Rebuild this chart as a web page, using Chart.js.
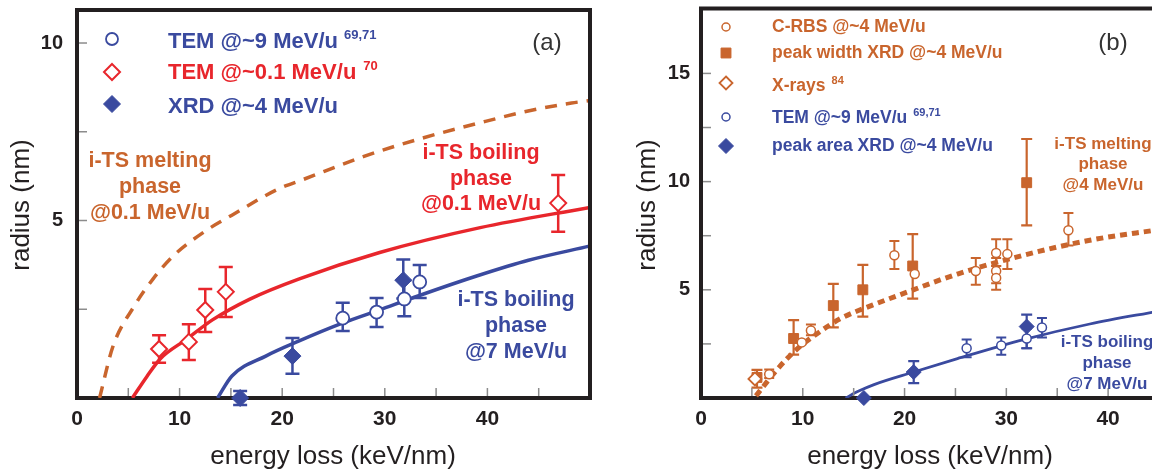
<!DOCTYPE html>
<html><head><meta charset="utf-8">
<script src="https://cdn.jsdelivr.net/npm/chart.js@4"></script>
<style>
html,body{margin:0;padding:0;background:#fff;width:1152px;height:470px;overflow:hidden;position:relative;}
#ca{position:absolute;left:0;top:0;width:620px;height:470px;}
#cb{position:absolute;left:620px;top:0;width:560px;height:470px;}
</style></head><body>
<canvas id="ca" width="620" height="470"></canvas>
<canvas id="cb" width="560" height="470"></canvas>
<script>
const FONT = '"Liberation Sans", Arial, Helvetica, sans-serif';
const ORANGE = '#c9652d', RED = '#e8262c', BLUE = '#3a4a9f', INK = '#231f20', TICK = '#8c8c8c';

// ---------- Panel (a) ----------
const aXLabels = [0, 10, 20, 30, 40];
const aYLabels = [5, 10];
// theory curves
const aMelt01X = [2.2, 3.5, 5.6, 7.4, 9.3, 12.6, 15.1, 19.7, 22.0, 27.9, 33.4, 39.1, 44.2, 48.2, 50];
const aMelt01Y = [0, 1.45, 2.6, 3.35, 3.98, 4.72, 5.15, 5.9, 6.15, 6.8, 7.3, 7.74, 8.1, 8.31, 8.38];
const aBoil01X = [5.4, 6.8, 8.1, 10.7, 13.2, 16.8, 21.6, 29.5, 39.3, 50];
const aBoil01Y = [0, 0.6, 1.1, 1.66, 2.2, 2.78, 3.35, 4.1, 4.8, 5.37];
const aBoil7X = [13.7, 15.1, 18.4, 21.6, 25.8, 29.4, 33.3, 39.1, 44, 50];
const aBoil7Y = [0, 0.62, 1.18, 1.6, 2.1, 2.47, 2.88, 3.45, 3.88, 4.28];
// TEM @~9 MeV/u
const aTem9X = [25.9, 29.2, 31.9, 33.4];
const aTem9Y = [2.25, 2.42, 2.79, 3.27];
const aTem9Lo = [1.89, 2.0, 2.3, 2.82];
const aTem9Hi = [2.68, 2.82, 3.3, 3.75];
// TEM @~0.1 MeV/u
const aTem01X = [8.0, 10.9, 12.5, 14.5, 46.9];
const aTem01Y = [1.38, 1.58, 2.48, 2.99, 5.49];
const aTem01Lo = [0.99, 1.07, 1.86, 2.28, 4.68];
const aTem01Hi = [1.77, 2.08, 3.07, 3.69, 6.28];
// XRD @~4 MeV/u
const aXrdX = [15.9, 21.0, 31.8];
const aXrdY = [0, 1.18, 3.32];
const aXrdLo = [-0.2, 0.68, 2.8];
const aXrdHi = [0.2, 1.69, 3.9];

// ---------- Panel (b) ----------
const bXLabels = [0, 10, 20, 30, 40];
const bYLabels = [5, 10, 15];
const bMelt4X = [5.4, 7.5, 9.4, 11.7, 13.7, 16.9, 19.6, 25.2, 31.7, 38.2, 45];
const bMelt4Y = [0.1, 1.33, 2.25, 3.07, 3.67, 4.3, 4.78, 5.73, 6.6, 7.29, 7.78];
const bBoil7X = [14.2, 15.5, 17.0, 20.9, 25.2, 31.7, 38.2, 45];
const bBoil7Y = [0, 0.32, 0.62, 1.2, 1.82, 2.7, 3.42, 4.02];
// C-RBS @~4 MeV/u
const bCrbsX = [6.7, 9.9, 10.8, 19.0, 21.0, 27.0, 29.0, 29.0, 29.0, 30.1, 36.1];
const bCrbsY = [1.1, 2.57, 3.12, 6.6, 5.73, 5.87, 6.7, 5.87, 5.55, 6.65, 7.75];
const bCrbsLo = [0.92, null, 2.9, 5.96, null, 5.23, 6.1, 5.3, 5.0, 5.96, 7.05];
const bCrbsHi = [1.32, null, 3.4, 7.25, null, 6.47, 7.34, 6.47, 6.1, 7.34, 8.55];
// peak width XRD @~4 MeV/u
const bPwX = [5.5, 9.1, 13.0, 15.9, 20.8, 32.0];
const bPwY = [0.95, 2.75, 4.27, 5.0, 6.1, 9.95];
const bPwLo = [0.48, 2.0, 3.26, 3.76, 4.59, 7.98];
const bPwHi = [1.3, 3.6, 5.27, 6.15, 7.57, 11.97];
// X-rays
const bXrX = [5.3];
const bXrY = [0.88];
// TEM @~9 MeV/u
const bTemX = [26.1, 29.5, 32.0, 33.5];
const bTemY = [2.3, 2.43, 2.75, 3.26];
const bTemLo = [1.88, 2.0, 2.3, 2.8];
const bTemHi = [2.7, 2.8, 3.2, 3.7];
// peak area XRD @~4 MeV/u
const bPaX = [16.0, 20.9, 32.0];
const bPaY = [0, 1.2, 3.3];
const bPaLo = [null, 0.69, 2.3];
const bPaHi = [null, 1.7, 3.85];

const pts = (xs, ys) => xs.map((x, i) => ({x: x, y: ys[i]}));

function curve(xs, ys, color, width, dash) {
  return {data: pts(xs, ys), showLine: true, pointRadius: 0, borderColor: color, borderWidth: width,
    borderDash: dash || [], borderCapStyle: 'butt', cubicInterpolationMode: 'monotone', fill: false, order: 10};
}
function scatter(xs, ys, lo, hi, style, r, color, filled, bw, errW, cap, order) {
  return {data: pts(xs, ys), showLine: false, pointStyle: style, pointRadius: r, pointHoverRadius: r,
    backgroundColor: filled ? color : '#fff', borderColor: color, borderWidth: bw, clip: false,
    errLo: lo, errHi: hi, errColor: color, errWidth: errW, errCap: cap, order: order};
}

const errorBars = {
  id: 'errorBars',
  beforeDatasetsDraw(chart) {
    const ctx = chart.ctx, xs = chart.scales.x, ys = chart.scales.y;
    chart.data.datasets.forEach(ds => {
      if (!ds.errLo) return;
      ctx.save();
      ctx.strokeStyle = ds.errColor; ctx.lineWidth = ds.errWidth; ctx.lineCap = 'butt';
      ds.data.forEach((p, j) => {
        const lo = ds.errLo[j], hi = ds.errHi[j];
        if (lo == null || hi == null) return;
        const px = xs.getPixelForValue(p.x), p1 = ys.getPixelForValue(lo), p2 = ys.getPixelForValue(hi);
        const c = ds.errCap;
        ctx.beginPath();
        ctx.moveTo(px, p1); ctx.lineTo(px, p2);
        ctx.moveTo(px - c, p1); ctx.lineTo(px + c, p1);
        ctx.moveTo(px - c, p2); ctx.lineTo(px + c, p2);
        ctx.stroke();
      });
      ctx.restore();
    });
  }
};

function marker(ctx, style, x, y, r, color, filled, lw) {
  ctx.save(); ctx.beginPath();
  if (style === 'circle') ctx.arc(x, y, r, 0, Math.PI * 2);
  else if (style === 'rectRot') { ctx.moveTo(x, y - r); ctx.lineTo(x + r, y); ctx.lineTo(x, y + r); ctx.lineTo(x - r, y); ctx.closePath(); }
  else { const s = r * Math.SQRT1_2; ctx.rect(x - s, y - s, 2 * s, 2 * s); }
  ctx.fillStyle = filled ? color : '#fff'; ctx.fill();
  ctx.lineWidth = lw; ctx.strokeStyle = color; ctx.stroke();
  ctx.restore();
}

const frame = {
  id: 'frame',
  afterDraw(chart, args, opts) {
    const ctx = chart.ctx, a = chart.chartArea, xs = chart.scales.x, ys = chart.scales.y;
    ctx.save();
    // inward ticks
    ctx.strokeStyle = TICK; ctx.lineWidth = 1.5;
    xs.ticks.forEach(t => {
      if (t.value <= xs.min || t.value >= xs.max || Math.abs(t.value / 5 - Math.round(t.value / 5)) > 1e-6) return;
      const px = xs.getPixelForValue(t.value);
      ctx.beginPath(); ctx.moveTo(px, a.bottom - 2); ctx.lineTo(px, a.bottom - 10); ctx.stroke();
    });
    ys.ticks.forEach(t => {
      if (t.value <= ys.min || t.value >= ys.max || Math.abs(t.value / 2.5 - Math.round(t.value / 2.5)) > 1e-6) return;
      const py = ys.getPixelForValue(t.value);
      ctx.beginPath(); ctx.moveTo(a.left + 2, py); ctx.lineTo(a.left + 10, py); ctx.stroke();
    });
    // top / right frame
    ctx.strokeStyle = INK; ctx.lineWidth = 4;
    ctx.beginPath(); ctx.moveTo(a.left - 2, a.top); ctx.lineTo(a.right + 2, a.top); ctx.stroke();
    if (opts.right) { ctx.beginPath(); ctx.moveTo(a.right, a.top); ctx.lineTo(a.right, a.bottom + 2); ctx.stroke(); }
    // axis titles
    ctx.fillStyle = INK; ctx.font = '26px ' + FONT; ctx.textAlign = 'center'; ctx.textBaseline = 'middle';
    ctx.fillText('energy loss (keV/nm)', opts.xTitle[0], opts.xTitle[1]);
    ctx.save(); ctx.translate(opts.yTitle[0], opts.yTitle[1]); ctx.rotate(-Math.PI / 2);
    ctx.fillText('radius (nm)', 0, 0); ctx.restore();
    // panel letter
    ctx.fillStyle = '#333'; ctx.font = '24px ' + FONT;
    ctx.fillText(opts.letter[0], opts.letter[1], opts.letter[2]);
    // annotations
    opts.notes.forEach(n => {
      ctx.fillStyle = n.color; ctx.font = 'bold ' + n.size + 'px ' + FONT; ctx.textAlign = 'center';
      n.lines.forEach((l, i) => ctx.fillText(l, n.x, n.ys[i]));
    });
    // legend
    opts.legend.forEach(L => {
      marker(ctx, L.style, L.mx, L.y, L.r, L.color, L.filled, L.lw);
      ctx.fillStyle = L.color; ctx.font = 'bold ' + L.size + 'px ' + FONT; ctx.textAlign = 'left'; ctx.textBaseline = 'middle';
      ctx.fillText(L.text, L.tx, L.ty);
      if (L.sup) {
        const w = ctx.measureText(L.text).width;
        ctx.font = 'bold ' + L.supSize + 'px ' + FONT;
        ctx.fillText(L.sup, L.tx + w + L.supGap, L.ty - L.supRise);
      }
    });
    ctx.restore();
  }
};

function scales(xMax, yMax, xLabels, yLabels, yW, xH, yPad, xPad) {
  return {
    x: {type: 'linear', min: 0, max: xMax,
      border: {display: true, color: INK, width: 4},
      grid: {display: false, drawTicks: false},
      ticks: {stepSize: 5, autoSkip: false, maxRotation: 0, minRotation: 0, padding: xPad, color: INK,
        font: {family: FONT, size: 21, weight: 'bold'},
        callback: v => xLabels.includes(v) ? String(v) : ''},
      afterFit: s => { s.height = xH; s.paddingLeft = 0; s.paddingRight = 0; s.paddingTop = 0; s.paddingBottom = 0; }
    },
    y: {type: 'linear', min: 0, max: yMax,
      border: {display: true, color: INK, width: 4},
      grid: {display: false, drawTicks: false},
      ticks: {stepSize: 2.5, autoSkip: false, padding: yPad, color: INK,
        font: {family: FONT, size: 20, weight: 'bold'},
        callback: v => yLabels.includes(v) ? String(v) : ''},
      afterFit: s => { s.width = yW; s.paddingTop = 0; s.paddingBottom = 0; s.paddingLeft = 0; s.paddingRight = 0; }
    }
  };
}

new Chart(document.getElementById('ca'), {
  type: 'scatter',
  data: {datasets: [
    curve(aMelt01X, aMelt01Y, ORANGE, 3.5, [12, 9]),
    curve(aBoil01X, aBoil01Y, RED, 3.5),
    curve(aBoil7X, aBoil7Y, BLUE, 3.5),
    scatter(aXrdX, aXrdY, aXrdLo, aXrdHi, 'rectRot', 8.5, BLUE, true, 1, 2.5, 7, 3),
    scatter(aTem9X, aTem9Y, aTem9Lo, aTem9Hi, 'circle', 6.5, BLUE, false, 1.8, 2.5, 7, 2),
    scatter(aTem01X, aTem01Y, aTem01Lo, aTem01Hi, 'rectRot', 8, RED, false, 2, 2.5, 7, 1)
  ]},
  options: {
    responsive: false, animation: false, events: [],
    layout: {padding: {left: 0, right: 30, top: 10, bottom: 0}},
    plugins: {legend: {display: false}, tooltip: {enabled: false},
      frame: {right: true, xTitle: [333, 457], yTitle: [22, 205], letter: ['(a)', 547, 43],
        notes: [
          {lines: ['i-TS melting', 'phase', '@0.1 MeV/u'], x: 150, ys: [161, 187, 213], color: ORANGE, size: 21.5},
          {lines: ['i-TS boiling', 'phase', '@0.1 MeV/u'], x: 481, ys: [153, 179, 204], color: RED, size: 21.5},
          {lines: ['i-TS boiling', 'phase', '@7 MeV/u'], x: 516, ys: [300, 326, 352], color: BLUE, size: 21.5}
        ],
        legend: [
          {style: 'circle', mx: 112, y: 39, r: 6, color: BLUE, filled: false, lw: 1.8, text: 'TEM @~9 MeV/u', tx: 168, ty: 42, size: 22, sup: '69,71', supSize: 13, supGap: 6, supRise: 7},
          {style: 'rectRot', mx: 112, y: 72, r: 8, color: RED, filled: false, lw: 2, text: 'TEM @~0.1 MeV/u', tx: 168, ty: 73, size: 22, sup: '70', supSize: 13, supGap: 7, supRise: 7},
          {style: 'rectRot', mx: 112, y: 104, r: 8.5, color: BLUE, filled: true, lw: 1, text: 'XRD @~4 MeV/u', tx: 168, ty: 107, size: 22}
        ]}},
    scales: scales(50, 10.93, aXLabels, aYLabels, 77, 72, 14, 9)
  },
  plugins: [errorBars, frame]
});

new Chart(document.getElementById('cb'), {
  type: 'scatter',
  data: {datasets: [
    curve(bMelt4X, bMelt4Y, ORANGE, 5, [7, 5]),
    curve(bBoil7X, bBoil7Y, BLUE, 2.8),
    scatter(bPwX, bPwY, bPwLo, bPwHi, 'rect', 7, ORANGE, true, 1, 2.2, 5.5, 4),
    scatter(bXrX, bXrY, null, null, 'rectRot', 6.5, ORANGE, false, 1.8, 2, 5, 3),
    scatter(bCrbsX, bCrbsY, bCrbsLo, bCrbsHi, 'circle', 4.5, ORANGE, false, 1.5, 2, 5, 1),
    scatter(bPaX, bPaY, bPaLo, bPaHi, 'rectRot', 7.5, BLUE, true, 1, 2.2, 5.5, 2),
    scatter(bTemX, bTemY, bTemLo, bTemHi, 'circle', 4.5, BLUE, false, 1.5, 2, 5, 1)
  ]},
  options: {
    responsive: false, animation: false, events: [],
    layout: {padding: {left: 0, right: 21, top: 7, bottom: 0}},
    plugins: {legend: {display: false}, tooltip: {enabled: false},
      frame: {right: false, xTitle: [310, 457], yTitle: [28, 205], letter: ['(b)', 493, 43],
        notes: [
          {lines: ['i-TS melting', 'phase', '@4 MeV/u'], x: 483, ys: [144, 164, 185], color: ORANGE, size: 17},
          {lines: ['i-TS boiling', 'phase', '@7 MeV/u'], x: 487, ys: [342, 363, 384], color: BLUE, size: 17}
        ],
        legend: [
          {style: 'circle', mx: 106, y: 27, r: 4, color: ORANGE, filled: false, lw: 1.5, text: 'C-RBS @~4 MeV/u', tx: 152, ty: 27, size: 17.5},
          {style: 'rect', mx: 106, y: 53, r: 7, color: ORANGE, filled: true, lw: 1, text: 'peak width XRD @~4 MeV/u', tx: 152, ty: 53, size: 17.5},
          {style: 'rectRot', mx: 106, y: 83, r: 6.5, color: ORANGE, filled: false, lw: 1.8, text: 'X-rays', tx: 152, ty: 86, size: 17.5, sup: '84', supSize: 11, supGap: 6, supRise: 5},
          {style: 'circle', mx: 106, y: 117, r: 4, color: BLUE, filled: false, lw: 1.5, text: 'TEM @~9 MeV/u', tx: 152, ty: 118, size: 17.5, sup: '69,71', supSize: 11, supGap: 6, supRise: 5},
          {style: 'rectRot', mx: 106, y: 146, r: 7.5, color: BLUE, filled: true, lw: 1, text: 'peak area XRD @~4 MeV/u', tx: 152, ty: 146, size: 17.5}
        ]}},
    scales: scales(45, 18, bXLabels, bYLabels, 81, 72, 11, 9)
  },
  plugins: [errorBars, frame]
});
</script>
</body></html>
